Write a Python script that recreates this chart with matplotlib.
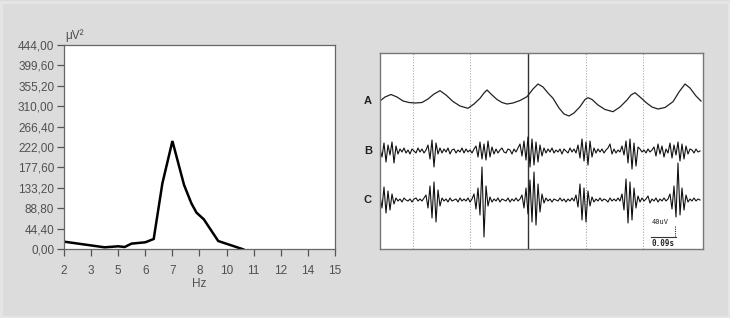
import numpy as np
import matplotlib
matplotlib.use("Agg")
import matplotlib.pyplot as plt
from matplotlib.patches import Rectangle

plt.rcParams['font.family'] = ['Liberation Sans', 'DejaVu Sans']

# ---------------- data: power spectrum ----------------
freq_labels = ['2', '3', '5', '6', '7', '8', '10', '11', '12', '14', '15']
y_ticks = [0.0, 44.4, 88.8, 133.2, 177.6, 222.0, 266.4, 310.0, 355.2, 399.6, 444.0]
spec_pos = [0.0, 1.5, 2.0, 2.24, 2.49, 3.0, 3.31, 3.63, 4.0, 4.43, 4.70, 4.89, 5.16, 5.69, 6.61]
spec_pow = [16.6, 4.3, 6.5, 5.0, 12.3, 15.2, 22.4, 143.0, 235.0, 139.6, 99.8, 79.5, 65.0, 18.0, 0.0]

# ---------------- data: EEG traces ----------------
trace_names = ['A', 'B', 'C']
trace_a_x = [380, 385, 391, 397, 403, 409, 415, 422, 428, 434, 440, 446, 453, 460, 468, 474,
             480, 484, 487, 491, 497, 502, 507, 513, 520, 527, 533, 538, 543, 548, 553, 559,
             564, 569, 574, 580, 585, 588, 592, 598, 605, 613, 620, 627, 631, 635, 640, 647,
             652, 658, 665, 673, 679, 685, 690, 696, 701]
trace_a = [0, 4, 6.5, 4, 0, -1.5, -2, -1.5, 2, 7, 10.3, 6, -0.5, -5, -7.3, -3,
           2.7, 8, 11, 7, 1.5, -1.5, -3, -2, 0.5, 4.3, 12, 17, 14, 8, 2.7, -7,
           -13, -15, -12, -5.7, 1.5, 3.3, 1.5, -4, -8.5, -10.7, -6, 1, 6, 8.3, 4, -2.3,
           -6, -8, -6.5, -0.7, 9, 17, 13, 5, 0]
trace_b = [2, -6, 8, -11, 6, -4, 9, -12, 5, -3,
           2, -1, 3, -2, 1, -3, 2, 0, -2, 3, -1, 2, -2, 1,
           6, -8, 11, -16, 8, -3,
           3, -2, 2, -1, 3, -3, 1, 2, -2, 1, -1, 3, -2, 2, -1, 1, -2, 2,
           5, -6, 9, -8, 7, -9, 10, -6, 4, -3,
           2, -2, 1, 3, -1, -2, 2, 1, -3, 2, -1, 3,
           7, -5, 10, -9, 14, -16, 12, -14, 9, -11, 6, -5, 3,
           -2, 2, -1, 3, -2, 1, -1, 2, -3, 2, 0, -2, 3, -1, 2, -2,
           6, -7, 12, -10, 9, -14, 10, -6, 3,
           -2, 2, -1, 2, -2, 1, 3,
           7, -3,
           2, -2, 1, -1,
           5, -4, 10, -12, 12, -18, 8, -15, 4,
           2, -1, 1, -2, 2, -1, 1,
           4, -5, 7, -3, 5, -6, 2, -2, 8, -7, 6, -4, 9, -10, 7, -8, 5, -3, 2,
           1, -2, 2, -1, 0]
trace_c = [4, -8, 13, -13, 9, -10, 6, -4,
           2, -1, 1, -2, 2, 0, -1, 1, -2, 1, 2, -1, 1, -1, 2,
           5, -8, 14, -18, 18, -22, 10, -6,
           2, -1, 1, -2, 2, -1, 0, 1, -2, 2, -1, 1, -1, 2, -2, 1,
           6, -9, 12, -15, 33, -37, 14, -6,
           3, -2, 1, -1, 2, -2, 1, 0, -1, 2, -2, 1, -1, 2, -1, 1,
           5, -8, 12, -14, 20, -22, 28, -25, 16, -12, 6, -3,
           2, -1, 1, -2, 1, 0, -1, 2, -1, 1, -2, 1, -1, 2, -1,
           5, -7, 16, -20, 12, -22, 9, -6, 3,
           -2, 1, -1, 2, -1, 1, 0, -2, 2, -1, 1, -1, 2, -1,
           6, -10, 21, -23, 18, -20, 12, -8, 4,
           -2, 2, -1, 1, 4, -3, 1, -1, 2, -2, 1, -1, 2, -1, 1,
           6, -9, 14, -17, 37, -15, 12, -10, 5,
           -2, 1, -1, 2, -1, 1, 0]
scale_amp = '40uV'
scale_time = '0.09s'

# ---------------- figure ----------------
W, H = 730, 318
fig = plt.figure(figsize=(W / 100, H / 100), dpi=100)
fig.patch.set_facecolor('#dcdcdc')
fig.add_artist(Rectangle((0.002, 0.004), 0.996, 0.99, transform=fig.transFigure,
                         fill=False, edgecolor='#e6e6e6', linewidth=2))

def fr(x0, y0, x1, y1):
    return [x0 / W, 1 - y1 / H, (x1 - x0) / W, (y1 - y0) / H]

txt_col = '#505050'

# left spectrum plot
ax = fig.add_axes(fr(64, 44.7, 335, 249.3))
ax.set_facecolor('white')
ax.plot(spec_pos, spec_pow, color='black', lw=1.8, solid_joinstyle='miter')
ax.set_xlim(0, len(freq_labels) - 1)
ax.set_ylim(0, 444)
ax.set_xticks(range(len(freq_labels)))
ax.set_xticklabels(freq_labels)
ax.set_yticks(y_ticks)
ax.set_yticklabels([f"{v:.2f}".replace('.', ',') for v in y_ticks])
for s in ax.spines.values():
    s.set_color('#666666')
    s.set_linewidth(0.9)
ax.tick_params(axis='both', direction='out', length=5, width=0.9, color='#555555',
               labelsize=8.5, labelcolor=txt_col, pad=2)
ax.tick_params(axis='x', pad=6)
ax.set_xlabel('Hz', fontsize=8.5, color=txt_col, labelpad=1)
fig.text(65 / W, 1 - 36 / H, 'μV²', fontsize=8.5, color=txt_col, ha='left', va='center')

# right EEG panel
ax2 = fig.add_axes(fr(380, 53, 703, 249))
ax2.set_facecolor('white')
ax2.set_xlim(380, 703)
ax2.set_ylim(249, 53)
for s in ax2.spines.values():
    s.set_color('#777777')
    s.set_linewidth(1.0)
ax2.set_xticks([])
ax2.set_yticks([])
for gx in [413, 470, 586, 643]:
    ax2.axvline(gx, color='#aaaaaa', lw=0.8, ls=(0, (1, 1.5)))
ax2.axvline(528, color='#333333', lw=1.0)

base = {'A': 101, 'B': 151, 'C': 200}
ax2.plot(trace_a_x, [base['A'] - v for v in trace_a], color='#222222', lw=0.9)
xb = np.linspace(380, 700, len(trace_b))
ax2.plot(xb, [base['B'] - v for v in trace_b], color='#111111', lw=0.8)
xc = np.linspace(380, 700, len(trace_c))
ax2.plot(xc, [base['C'] - v for v in trace_c], color='#111111', lw=0.8)

for name in trace_names:
    fig.text(368 / W, 1 - base[name] / H, name, fontsize=8, fontweight='bold',
             color='#222222', ha='center', va='center')

# scale bar
ax2.plot([651, 676], [237, 237], color='#333333', lw=0.8)
ax2.plot([675, 675], [226, 237], color='#333333', lw=0.8, ls=(0, (1, 1)))
ax2.text(652, 225, scale_amp, fontsize=5, color='#222222', ha='left', va='bottom',
         family='DejaVu Sans Mono')
ax2.text(651, 239, scale_time, fontsize=5.5, color='#222222', ha='left', va='top',
         fontweight='bold', family='DejaVu Sans Mono')

fig.savefig('out.png', dpi=100, facecolor=fig.get_facecolor())
